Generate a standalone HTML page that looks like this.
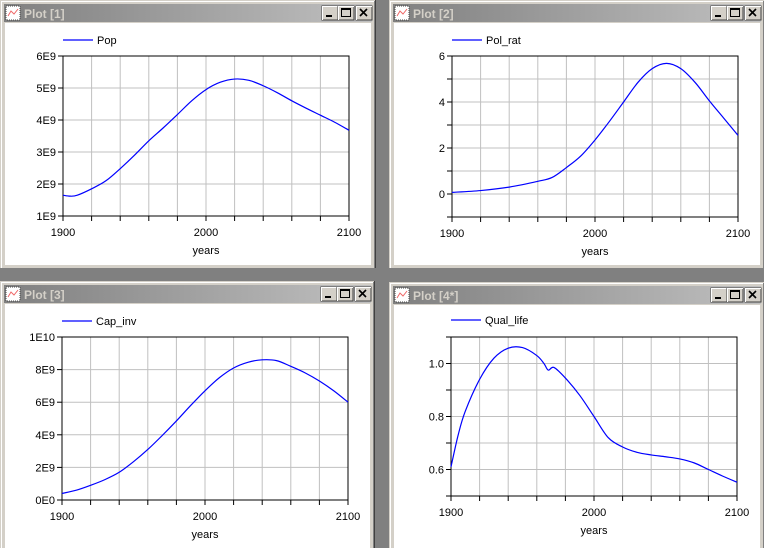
<!DOCTYPE html>
<html><head><meta charset="utf-8"><style>
html,body{margin:0;padding:0;background:#808080;width:764px;height:548px;overflow:hidden}
svg{display:block}
text{font-family:"Liberation Sans",sans-serif}
</style></head><body>
<svg id="s" width="764" height="548" xmlns="http://www.w3.org/2000/svg"></svg>
<script>
const s=document.getElementById('s');
let h='<defs><linearGradient id="tb" x1="0" x2="1"><stop offset="0" stop-color="#808080"/><stop offset="1" stop-color="#c0c0c0"/></linearGradient></defs>';
function win(x,y,w,hh,title){
  h+=`<rect x="${x}" y="${y}" width="${w}" height="${hh}" fill="#d4d0c8"/>`;
  h+=`<path d="M${x+0.5} ${y+hh}V${y+0.5}H${x+w}" stroke="#d4d0c8" fill="none"/>`;
  h+=`<path d="M${x+1.5} ${y+hh}V${y+1.5}H${x+w-1}" stroke="#fff" fill="none"/>`;
  h+=`<path d="M${x+w-0.5} ${y}V${y+hh}" stroke="#404040"/><path d="M${x+w-1.5} ${y+1}V${y+hh}" stroke="#808080"/>`;
  h+=`<rect x="${x+4}" y="${y+4}" width="${w-8}" height="18" fill="url(#tb)"/>`;
  h+=`<rect x="${x+6}" y="${y+6}" width="14" height="14" fill="#fff" stroke="#444" stroke-dasharray="1 1"/><path d="M${x+8} ${y+16}l3-5 3 3 4-5" stroke="#e66" fill="none"/>`;
  h+=`<text x="${x+24}" y="${y+18}" font-size="12" font-weight="bold" fill="#d4d0c8">${title}</text>`;
  const bx=x+w-54;
  ['_','□','×'].forEach((c,i)=>{const X=bx+i*16+(i==2?2:0);
    h+=`<rect x="${X}" y="${y+6}" width="16" height="14" fill="#d4d0c8" stroke="#404040"/><path d="M${X+0.5} ${y+20}V${y+6.5}H${X+16}" stroke="#fff" fill="none"/>`;
    if(i==0)h+=`<rect x="${X+4}" y="${y+15}" width="6" height="2" fill="#000"/>`;
    if(i==1)h+=`<rect x="${X+3.5}" y="${y+8.5}" width="9" height="8" fill="none" stroke="#000"/><rect x="${X+3}" y="${y+8}" width="10" height="2" fill="#000"/>`;
    if(i==2)h+=`<path d="M${X+4} ${y+9}l7 7M${X+11} ${y+9}l-7 7" stroke="#000" stroke-width="1.6"/>`;
  });
  h+=`<rect x="${x+5}" y="${y+23}" width="${w-10}" height="${hh-26}" fill="#fff"/>`;
}
function plot(x0,x1,yt,yb,vmin,vmax,gstep,lstep,fmt,name,data,lx,ly,lbx){
  const X=t=>x0+(t-1900)/200*(x1-x0), Y=v=>yb-(v-vmin)/(vmax-vmin)*(yb-yt);
  for(let t=1920;t<2100;t+=20)h+=`<line x1="${X(t)}" x2="${X(t)}" y1="${yt}" y2="${yb}" stroke="#c0c0c0"/>`;
  for(let v=vmin+gstep;v<vmax-1e-9;v+=gstep)h+=`<line x1="${x0}" x2="${x1}" y1="${Y(v)}" y2="${Y(v)}" stroke="#c0c0c0"/>`;
  h+=`<rect x="${x0}" y="${yt}" width="${x1-x0}" height="${yb-yt}" fill="none" stroke="#000"/>`;
  for(let t=1900;t<=2100;t+=20)h+=`<line x1="${X(t)}" x2="${X(t)}" y1="${yb}" y2="${yb+5}" stroke="#000"/>`;
  for(let v=vmin;v<=vmax+1e-9;v+=gstep)h+=`<line x1="${x0-5}" x2="${x0}" y1="${Y(v)}" y2="${Y(v)}" stroke="#000"/>`;
  [1900,2000,2100].forEach(t=>h+=`<text x="${X(t)}" y="${yb+20}" font-size="11" text-anchor="middle">${t}</text>`);
  h+=`<text x="${(x0+x1)/2}" y="${yb+38}" font-size="11" text-anchor="middle">years</text>`;
  for(let v=lstep.start;v<=vmax+1e-9;v+=lstep.step)h+=`<text x="${x0-7}" y="${Y(v)+4}" font-size="11" text-anchor="end">${fmt(v)}</text>`;
  h+=`<line x1="${lx}" x2="${lx+30}" y1="${ly}" y2="${ly}" stroke="#00f" stroke-width="1.2"/><text x="${lx+34}" y="${ly+4}" font-size="11">${name}</text>`;
  // smooth path via catmull-rom
  const p=data.map(d=>[X(d[0]),Y(d[1])]);
  let d=`M${p[0][0]} ${p[0][1]}`;
  for(let i=0;i<p.length-1;i++){const a=p[Math.max(0,i-1)],b=p[i],c=p[i+1],e=p[Math.min(p.length-1,i+2)];
    d+=`C${b[0]+(c[0]-a[0])/6} ${b[1]+(c[1]-a[1])/6} ${c[0]-(e[0]-b[0])/6} ${c[1]-(e[1]-b[1])/6} ${c[0]} ${c[1]}`;}
  h+=`<path d="${d}" fill="none" stroke="#00f" stroke-width="1.2"/>`;
}
win(0,0,376,268,'Plot [1]');
win(389,0,376,268,'Plot [2]');
win(0,281,375,270,'Plot [3]');
win(389,282,376,270,'Plot [4*]');
plot(63,349,56,216,1,6,1,{start:1,step:1},v=>Math.round(v)+'E9','Pop',
 [[1900,1.65],[1905,1.62],[1910,1.65],[1920,1.85],[1930,2.1],[1940,2.48],[1950,2.9],[1960,3.35],[1970,3.75],[1980,4.17],[1990,4.6],[2000,4.95],[2010,5.18],[2020,5.28],[2030,5.24],[2040,5.07],[2050,4.85],[2060,4.6],[2070,4.37],[2080,4.15],[2090,3.93],[2100,3.68]],63,40);
plot(452,738,56,217,-1,6,1,{start:0,step:2},v=>Math.round(v),'Pol_rat',
 [[1900,0.07],[1920,0.15],[1940,0.3],[1960,0.55],[1970,0.72],[1980,1.15],[1990,1.65],[2000,2.35],[2010,3.15],[2020,4.0],[2030,4.85],[2040,5.45],[2050,5.68],[2060,5.45],[2070,4.85],[2080,4.05],[2090,3.3],[2100,2.55]],452,40);
plot(62,348,337,500,0,10,2,{start:0,step:2},v=>v==10?'1E10':Math.round(v)+'E'+(v==0?'0':'9'),'Cap_inv',
 [[1900,0.4],[1910,0.6],[1920,0.9],[1930,1.25],[1940,1.7],[1950,2.35],[1960,3.1],[1970,3.95],[1980,4.85],[1990,5.8],[2000,6.7],[2010,7.5],[2020,8.1],[2030,8.45],[2040,8.6],[2050,8.55],[2060,8.2],[2070,7.8],[2080,7.3],[2090,6.7],[2100,6.0]],62,321);
plot(451,737,337,496,0.5,1.1,0.1,{start:0.6,step:0.2},v=>v.toFixed(1),'Qual_life',
 [[1900,0.61],[1905,0.73],[1910,0.82],[1920,0.94],[1930,1.02],[1940,1.058],[1950,1.06],[1960,1.03],[1965,1.0],[1968,0.975],[1972,0.985],[1980,0.945],[1990,0.88],[2000,0.8],[2010,0.72],[2020,0.685],[2030,0.665],[2040,0.655],[2050,0.648],[2060,0.64],[2070,0.625],[2080,0.60],[2090,0.575],[2100,0.552]],451,320);
s.innerHTML=h;
</script>
</body></html>
